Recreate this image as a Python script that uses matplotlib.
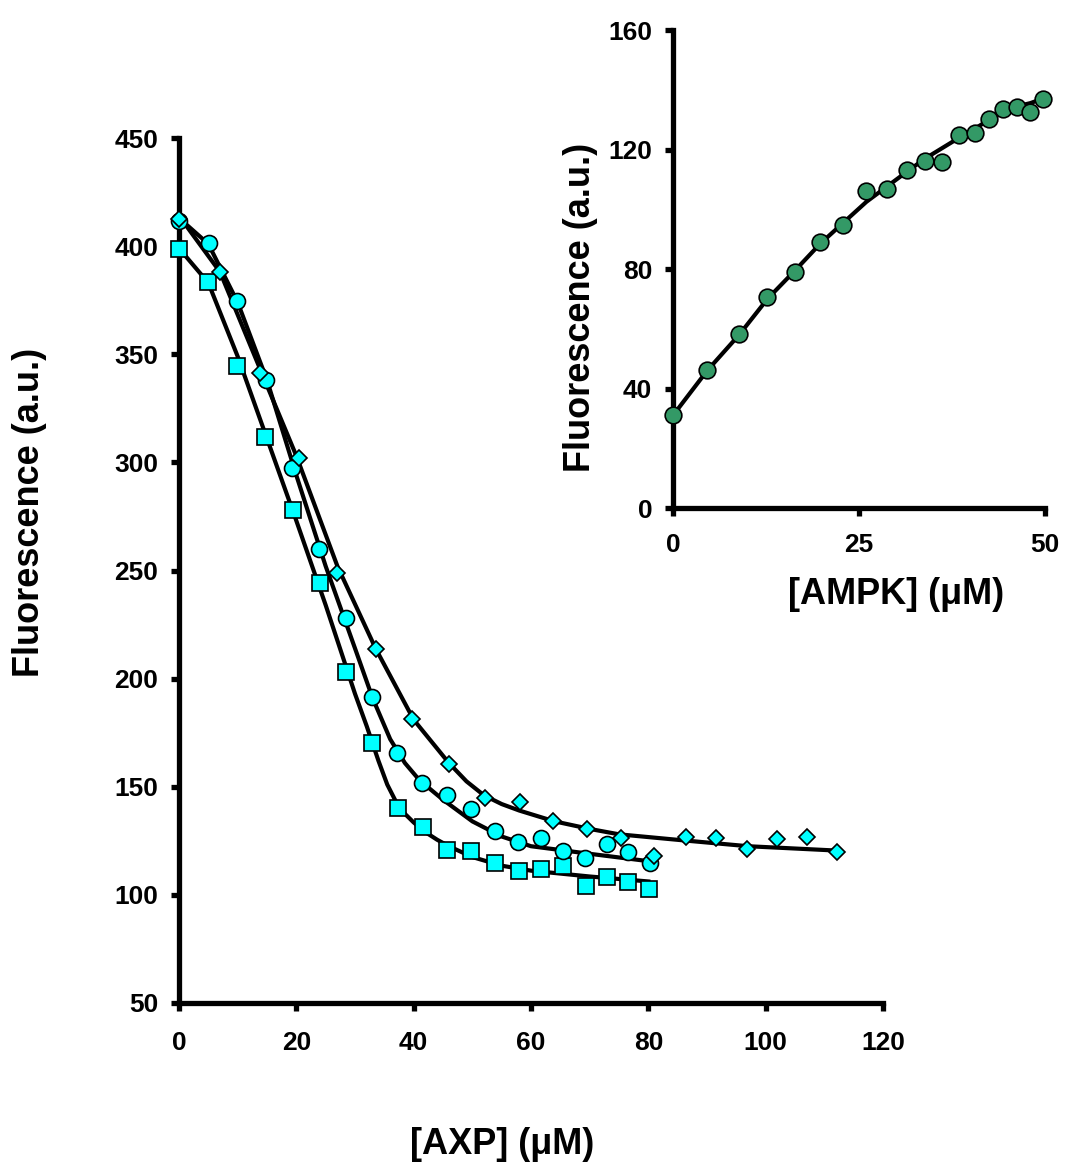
import numpy as np
import matplotlib
matplotlib.use("Agg")
import matplotlib.pyplot as plt

plt.rcParams['font.family'] = ['Liberation Sans', 'DejaVu Sans']
plt.rcParams['font.weight'] = 'bold'

# main panel: fluorescence vs [AXP]
sq_x = [0, 4.9, 9.9, 14.7, 19.4, 24.0, 28.5, 32.9, 37.3, 41.6, 45.7, 49.8, 53.9, 58.0, 61.7, 65.5, 69.4, 73.0, 76.5, 80.1]
sq_y = [398.7, 383.4, 344.6, 311.7, 278, 244.2, 203.1, 170.2, 140.2, 131.4, 120.8, 120.3, 114.7, 111, 112, 113.4, 104, 108.3, 106, 102.7]
ci_x = [0, 5.1, 9.9, 14.8, 19.3, 23.9, 28.4, 32.9, 37.2, 41.5, 45.7, 49.8, 53.9, 57.8, 61.7, 65.5, 69.2, 73.0, 76.6, 80.2]
ci_y = [411.8, 401.6, 374.8, 338.1, 297.3, 260, 227.9, 191.4, 165.7, 151.6, 146.2, 139.6, 129.7, 124.6, 126.2, 120.3, 117.2, 123.4, 119.7, 114.6]
di_x = [0, 7.0, 13.8, 20.5, 27.0, 33.5, 39.8, 46.1, 52.2, 58.1, 63.8, 69.6, 75.3, 81.0, 86.4, 91.6, 96.9, 102.0, 107.1, 112.2]
di_y = [412.5, 388, 341.5, 301.9, 248.7, 213.7, 181.2, 160.5, 144.7, 142.8, 134.2, 130.5, 126.4, 117.9, 126.9, 126.2, 121.1, 125.7, 126.9, 120]

# fitted curves
sq_fit_x = [0, 5, 10, 15, 20, 25, 30, 32, 34, 35.5, 37, 38.5, 40, 42, 44, 46, 50, 55, 60, 70, 80]
sq_fit_y = [399, 383, 349, 311, 273, 234, 193, 178, 162, 151, 143, 137.5, 133.5, 129, 125.5, 122.5, 117.5, 113.5, 111.2, 108.5, 106.2]
ci_fit_x = [0, 5, 10, 15, 20, 25, 30, 33, 36, 38.5, 41, 45, 50, 55, 60, 70, 80]
ci_fit_y = [413, 401, 374, 338, 294, 252, 214, 191, 172, 161, 153, 144, 134, 127, 122.5, 119, 115.6]
di_fit_x = [0, 7, 14, 20, 27, 33.5, 40, 46, 49, 52, 55, 58, 64, 70, 75, 86, 97, 112]
di_fit_y = [414, 388, 342, 303, 252, 214, 181, 161, 152.5, 146, 142, 139, 134, 130.5, 128, 125.2, 122.5, 120.5]

# inset: fluorescence vs [AMPK]
in_x = [0, 4.6, 8.9, 12.7, 16.4, 19.8, 22.9, 26.0, 28.7, 31.4, 33.9, 36.2, 38.5, 40.6, 42.5, 44.4, 46.3, 48.0, 49.7]
in_y = [31.1, 46.1, 58.4, 70.6, 79.0, 88.9, 94.8, 106.0, 106.9, 113.0, 116.3, 115.8, 124.8, 125.4, 130.2, 133.5, 134.2, 132.4, 137.0]
in_fit_x = [0, 4.6, 8.9, 12.7, 16.4, 19.8, 22.9, 26.0, 28.7, 31.4, 33.9, 36.2, 38.5, 40.6, 42.5, 44.4, 46.3, 48.0, 49.7]
in_fit_y = [31, 46, 58, 70, 79.5, 88.5, 95.5, 102.5, 107.5, 112.5, 117, 120.5, 124, 127, 130, 132.5, 134.5, 135.5, 137]

cyan = '#00FFFF'
green = '#339966'

fig = plt.figure(figsize=(10.68, 11.66), dpi=100)

def style(ax, pad):
    for s in ['top', 'right']:
        ax.spines[s].set_visible(False)
    for s in ['left', 'bottom']:
        ax.spines[s].set_linewidth(3.8)
    ax.tick_params(direction='out', length=6, width=3.8, labelsize=19)
    ax.tick_params(axis='x', pad=pad)
    ax.tick_params(axis='y', pad=9)
    for lab in ax.get_xticklabels() + ax.get_yticklabels():
        lab.set_fontweight('bold')

ax = fig.add_axes([179/1068, 1-1003/1166, (883-179)/1068, (1003-138)/1166])
ax.plot(sq_fit_x, sq_fit_y, 'k-', lw=3, zorder=2)
ax.plot(ci_fit_x, ci_fit_y, 'k-', lw=3, zorder=2)
ax.plot(di_fit_x, di_fit_y, 'k-', lw=3, zorder=2)
ax.plot(sq_x, sq_y, 's', ms=12, mfc=cyan, mec='k', mew=1.2, ls='none', zorder=3)
ax.plot(ci_x, ci_y, 'o', ms=11.5, mfc=cyan, mec='k', mew=1.2, ls='none', zorder=3)
ax.plot(di_x, di_y, 'D', ms=8.5, mfc=cyan, mec='k', mew=1.2, ls='none', zorder=3)
ax.set_xlim(0, 120)
ax.set_ylim(50, 450)
ax.set_xticks(np.arange(0, 121, 20))
ax.set_yticks(np.arange(50, 451, 50))
style(ax, 14)
for l in ax.lines:
    l.set_clip_on(False)

fig.text(30/1068, 1-512/1166, 'Fluorescence (a.u.)', rotation=90, fontsize=26,
         fontweight='bold', ha='center', va='center')
fig.text(502/1068, 1-1145/1166, '[AXP] (\u03bcM)', fontsize=26,
         fontweight='bold', ha='center', va='center')

ins = fig.add_axes([673/1068, 1-508/1166, (1045-673)/1068, (508-30)/1166])
ins.plot(in_fit_x, in_fit_y, 'k-', lw=3, zorder=2)
ins.plot(in_x, in_y, 'o', ms=12, mfc=green, mec='k', mew=1.2, ls='none', zorder=3)
ins.set_xlim(0, 50)
ins.set_ylim(0, 160)
ins.set_xticks([0, 25, 50])
ins.set_yticks(np.arange(0, 161, 40))
ins.patch.set_alpha(0)
style(ins, 12)
for l in ins.lines:
    l.set_clip_on(False)

fig.text(580/1068, 1-307/1166, 'Fluorescence (a.u.)', rotation=90, fontsize=26,
         fontweight='bold', ha='center', va='center')
fig.text(896/1068, 1-594/1166, '[AMPK] (\u03bcM)', fontsize=26,
         fontweight='bold', ha='center', va='center')

fig.savefig('out.png', dpi=100)
